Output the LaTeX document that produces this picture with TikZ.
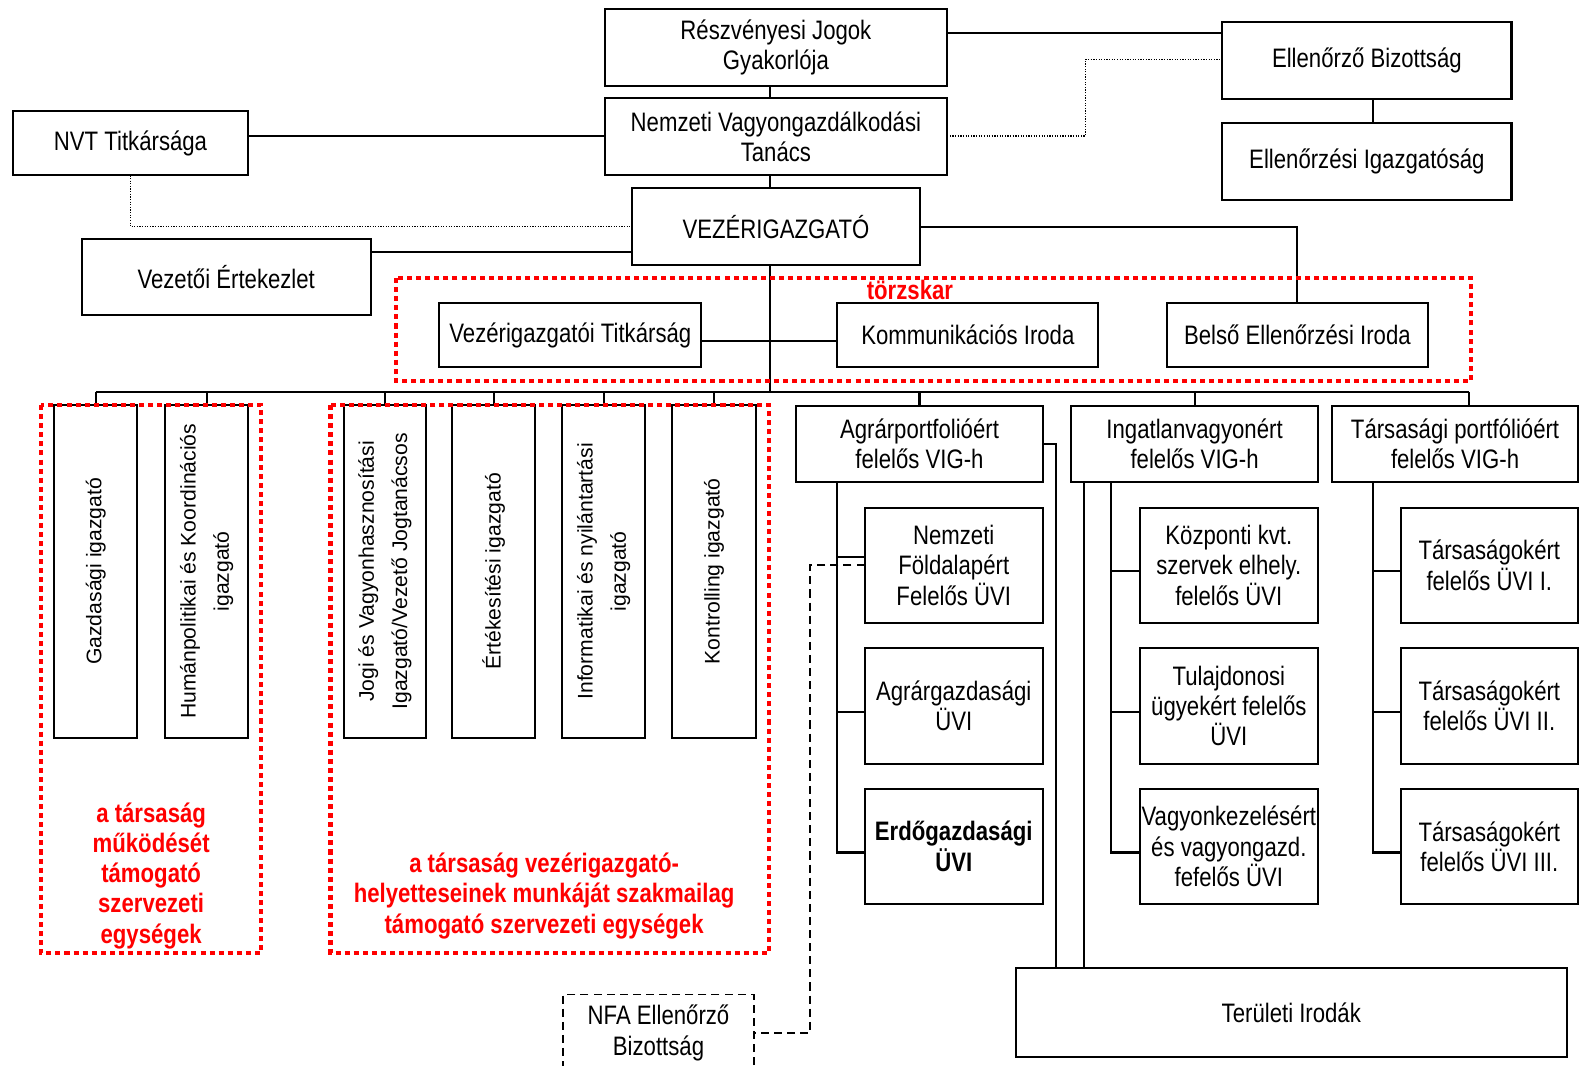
\documentclass[tikz,border=0pt]{standalone}
\usepackage{fontspec}
\setmainfont{Liberation Sans}[FakeStretch=0.83]
\newfontfamily\widefont{Liberation Sans}
\definecolor{rred}{RGB}{255,0,0}
\tikzset{
  box/.style={draw, line width=1pt, inner sep=0pt, outer sep=0pt, align=center,
    font=\fontsize{13.25}{15}\selectfont},
  vertbox/.style={box, rotate=90, font=\widefont\fontsize{10.5}{16.5}\selectfont},
  conn/.style={line width=1pt},
  dotline/.style={line width=0.6pt, dash pattern=on 0.6pt off 0.7pt},
  nfadash/.style={line width=0.9pt, dash pattern=on 4pt off 2.5pt},
  reddot/.style={draw=rred, line width=2pt, dash pattern=on 2.5pt off 2pt},
  redlbl/.style={text=rred, inner sep=0pt, align=center,
    font=\bfseries\fontsize{13.25}{15}\selectfont},
}
\newcommand\mkbox[7][]{\node[box,#1,minimum width={(#5-#3)*0.5pt},minimum height={(#6-#4)*0.5pt}] (#2) at ({(#3+#5)/2},{(#4+#6)/2}) {#7};}
\newcommand\mkvbox[7][]{\node[vertbox,#1,minimum width={(#6-#4)*0.5pt},minimum height={(#5-#3)*0.5pt}] (#2) at ({(#3+#5)/2},{(#4+#6)/2}) {#7};}
\begin{document}
\begin{tikzpicture}[x=0.5pt,y=-0.5pt]
\useasboundingbox (0,0) rectangle (1568,1057);
\fill[white] (0,0) rectangle (1568,1057);
\clip (0,0) rectangle (1568,1057);

% top boxes
\mkbox{res}{600}{9}{940}{85}{Részvényesi Jogok\\Gyakorlója}
\mkbox{tan}{600}{97}{940}{174}{Nemzeti Vagyongazdálkodási\\Tanács}
\mkbox{nvts}{13}{110}{246}{174}{NVT Titkársága}
\mkbox{ell}{1213}{22}{1500}{98}{Ellenőrző Bizottság}
\mkbox{elli}{1213}{122}{1500}{198}{Ellenőrzési Igazgatóság}
\mkbox{vez}{627}{187}{913}{263}{VEZÉRIGAZGATÓ}
\mkbox{vezert}{81}{237}{368}{313}{Vezetői Értekezlet}
\mkbox{vt}{436}{301}{696}{364}{Vezérigazgatói Titkárság}
\mkbox{ki}{831}{301}{1090}{364}{Kommunikációs Iroda}
\mkbox{bei}{1158}{301}{1417}{364}{Belső Ellenőrzési Iroda}

% vertical boxes
\mkvbox{gaz}{54}{402}{136}{732}{Gazdasági igazgató}
\mkvbox{hum}{164}{402}{246}{732}{Humánpolitikai és Koordinációs\\igazgató}
\mkvbox{jog}{341}{402}{423}{732}{Jogi és Vagyonhasznosítási\\Igazgató/Vezető Jogtanácsos}
\mkvbox{ert}{449}{402}{531}{732}{Értékesítési igazgató}
\mkvbox{inf}{558}{402}{640}{732}{Informatikai és nyilántartási\\igazgató}
\mkvbox{kon}{667}{402}{750}{732}{Kontrolling igazgató}

% VIG-h boxes
\mkbox{agr}{790}{403}{1035}{478}{Agrárportfolióért\\felelős VIG-h}
\mkbox{ing}{1063}{403}{1308}{478}{Ingatlanvagyonért\\felelős VIG-h}
\mkbox{tar}{1322}{403}{1566}{478}{Társasági portfólióért\\felelős VIG-h}

% ÜVI boxes
\mkbox{nfa}{858}{504}{1035}{618}{Nemzeti\\Földalapért\\Felelős ÜVI}
\mkbox{agg}{858}{643}{1035}{758}{Agrárgazdasági\\ÜVI}
\mkbox[font=\bfseries\fontsize{13.25}{15}\selectfont]{erd}{858}{783}{1035}{897}{Erdőgazdasági\\ÜVI}
\mkbox{kvt}{1131}{504}{1308}{618}{Központi kvt.\\szervek elhely.\\felelős ÜVI}
\mkbox{tul}{1131}{643}{1308}{758}{Tulajdonosi\\ügyekért felelős\\ÜVI}
\mkbox{vag}{1131}{783}{1308}{897}{Vagyonkezelésért\\és vagyongazd.\\fefelős ÜVI}
\mkbox{t1}{1390}{504}{1566}{618}{Társaságokért\\felelős ÜVI I.}
\mkbox{t2}{1390}{643}{1566}{758}{Társaságokért\\felelős ÜVI II.}
\mkbox{t3}{1390}{783}{1566}{897}{Társaságokért\\felelős ÜVI III.}
\mkbox{ter}{1008}{961}{1555}{1049}{Területi Irodák}
\mkbox[dash pattern=on 4pt off 2.5pt, line width=0.9pt]{nfab}{559}{987}{748}{1063}{NFA Ellenőrző\\Bizottság}

% helper coordinates
\coordinate (spine) at (764,0);
\coordinate (busL) at (95,389);
\coordinate (busR) at (1458,389);
\coordinate (yTop) at (0,33);
\coordinate (yNvt) at (0,135);
\coordinate (yVe) at (0,250);
\coordinate (yVt) at (0,338);
\coordinate (xEll) at (1363,0);
\coordinate (dotc) at (1077,59);
\coordinate (tA) at (831,0);
\coordinate (tAr) at (1048,0);
\coordinate (tI) at (1103,0);
\coordinate (tI2) at (1076,0);
\coordinate (tT) at (1363,0);
\coordinate (nfaX) at (804,0);

% connectors
\draw[conn] (res.south -| spine) -- (tan.north -| spine);
\draw[conn] (tan.south -| spine) -- (vez.north -| spine);
\draw[conn] (vez.south -| spine) -- (spine |- busL);
\draw[conn] (busL) -- (busR);
\draw[conn] (res.east |- yTop) -- (ell.west |- yTop);
\draw[conn] (ell.south -| xEll) -- (elli.north -| xEll);
\draw[dotline] (tan.east |- yNvt) -| (dotc) -- (ell.west |- dotc);
\draw[conn] (nvts.east |- yNvt) -- (tan.west |- yNvt);
\draw[dotline] (nvts.south) |- (vez.west);
\draw[conn] (vezert.east |- yVe) -- (vez.west |- yVe);
\draw[conn] (vez.east) -| (bei.north);
\draw[conn] (vt.east |- yVt) -- (ki.west |- yVt);

\foreach \n in {gaz,hum,jog,ert,inf,kon} \draw[conn] (\n.east) -- (\n.east |- busL);
\draw[conn] (agr.north) -- (agr.north |- busL);
\draw[conn] (ing.north) -- (ing.north |- busL);
\draw[conn] (busR) -- (busR |- tar.north);

% Agrár
\draw[conn] (agr.south -| tA) |- ([yshift=-3pt]erd.west);
\draw[conn] ([yshift=4pt]nfa.west) -- ++(-27,0);
\draw[conn] ([yshift=-3pt]agg.west) -- ++(-27,0);
\draw[conn] (agr.east) -| (ter.north -| tAr);
% Ingatlan
\draw[conn] (ing.south -| tI) |- ([yshift=-3pt]vag.west);
\draw[conn] ([yshift=-3pt]kvt.west) -- ++(-28,0);
\draw[conn] ([yshift=-3pt]tul.west) -- ++(-28,0);
\draw[conn] (ing.south -| tI2) -- (ter.north -| tI2);
% Társasági
\draw[conn] (tar.south -| tT) |- ([yshift=-3pt]t3.west);
\draw[conn] ([yshift=-3pt]t1.west) -- ++(-27,0);
\draw[conn] ([yshift=-3pt]t2.west) -- ++(-27,0);
% NFA dashed
\draw[nfadash] (nfa.west) -| (nfaX |- nfab.east) -- (nfab.east);

% red groups
\draw[reddot] (41,402) rectangle (259,946);
\draw[reddot] (328,402) rectangle (763,946);
\draw[reddot] (393,276) rectangle (1460,378);
\node[redlbl] (tk) at (903,288) {törzskar};
\node[redlbl] (lblL) at (150,869) {a társaság\\működését\\támogató\\szervezeti\\egységek};
\node[redlbl] (lblM) at (540,889) {a társaság vezérigazgató-\\helyetteseinek munkáját szakmailag\\támogató szervezeti egységek};
\end{tikzpicture}
\end{document}
